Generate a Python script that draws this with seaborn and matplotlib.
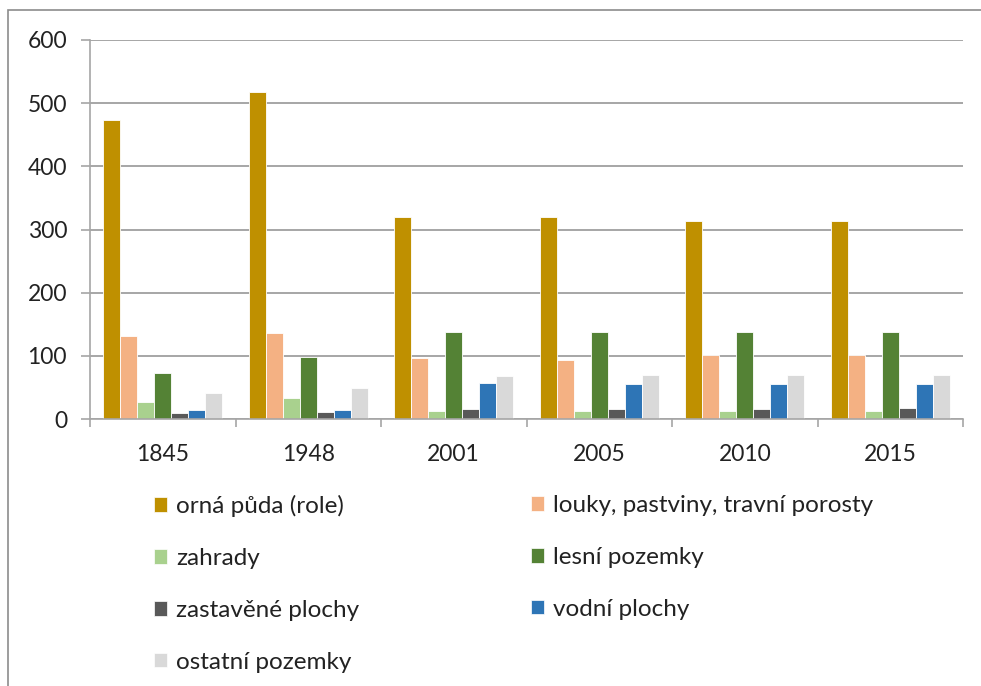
import numpy as np
import pandas as pd
import matplotlib
matplotlib.use('Agg')
import matplotlib.pyplot as plt
from matplotlib.patches import Patch, Rectangle
import seaborn as sns

# roky a kategorie pozemků
years = ['1845', '1948', '2001', '2005', '2010', '2015']
categories = ['orná půda (role)', 'louky, pastviny, travní porosty', 'zahrady',
              'lesní pozemky', 'zastavěné plochy', 'vodní plochy', 'ostatní pozemky']

orna = [473, 517, 319, 319, 313, 313]
louky = [132, 136, 96, 94, 101, 101]
zahrady = [27, 34, 13, 13, 13, 13]
lesni = [73, 98, 138, 138, 138, 138]
zastavene = [9, 11, 16, 16, 16, 18]
vodni = [14, 14, 57, 55, 55, 55]
ostatni = [41, 49, 68, 69, 69, 69]

colors = ['#BF9000', '#F4B183', '#A9D18E', '#548235', '#595959', '#2E75B6', '#D9D9D9']

values = [orna, louky, zahrady, lesni, zastavene, vodni, ostatni]
df = pd.DataFrame({
    'rok': np.tile(years, len(categories)),
    'kategorie': np.repeat(categories, len(years)),
    'hodnota': np.concatenate(values),
})

sns.set_style('white')
plt.rcParams['font.family'] = ['Lato', 'DejaVu Sans']

fig = plt.figure(figsize=(9.81, 6.86), dpi=100)
ax = fig.add_axes([90/981, 1 - 419/686, 873/981, 379/686])

sns.barplot(data=df, x='rok', y='hodnota', hue='kategorie', hue_order=categories,
            order=years, palette=colors, width=0.82, ax=ax, legend=False,
            edgecolor='white', linewidth=0.6, saturation=1)

ax.set_ylim(0, 600)
ax.set_yticks(range(0, 601, 100))
ax.set_xlim(-0.5, len(years) - 0.5)
ax.set_xlabel('')
ax.set_ylabel('')
ax.yaxis.grid(True, color='#A6A6A6', linewidth=1.4)
ax.set_axisbelow(True)

for s in ['top', 'right']:
    ax.spines[s].set_visible(False)
for s in ['left', 'bottom']:
    ax.spines[s].set_color('#A6A6A6')
    ax.spines[s].set_linewidth(1.2)

ax.tick_params(axis='y', length=6.5, width=1.2, color='#A6A6A6', pad=10,
               labelsize=16.5, labelcolor='#222222', left=True)
ax.tick_params(axis='x', which='major', length=0, pad=18, labelsize=16.5, labelcolor='#222222')
ax.set_xticks(np.arange(-0.5, len(years)), minor=True)
ax.tick_params(axis='x', which='minor', length=6, width=1.2, color='#A6A6A6', bottom=True)

# legenda ve dvou sloupcích
handles = [Patch(facecolor=c, edgecolor='white', linewidth=0.5) for c in colors]
left_idx = [0, 2, 4, 6]
right_idx = [1, 3, 5]
common = dict(frameon=False, fontsize=17.5, handlelength=0.55, handleheight=0.55,
              handletextpad=0.35, labelspacing=1.27, borderaxespad=0, borderpad=0,
              labelcolor='#222222')
fig.legend([handles[i] for i in left_idx], [categories[i] for i in left_idx],
           loc='upper left', bbox_to_anchor=(154/981, 1 - 495/686), **common)
fig.legend([handles[i] for i in right_idx], [categories[i] for i in right_idx],
           loc='upper left', bbox_to_anchor=(531/981, 1 - 495/686), **common)

# rámeček grafu
fig.patches.append(Rectangle((8/981, -0.01), 1.1, 1 - 10/686 + 0.01,
                             transform=fig.transFigure, fill=False,
                             edgecolor='#8C8C8C', linewidth=1.2))

fig.savefig('out.png', dpi=100)
